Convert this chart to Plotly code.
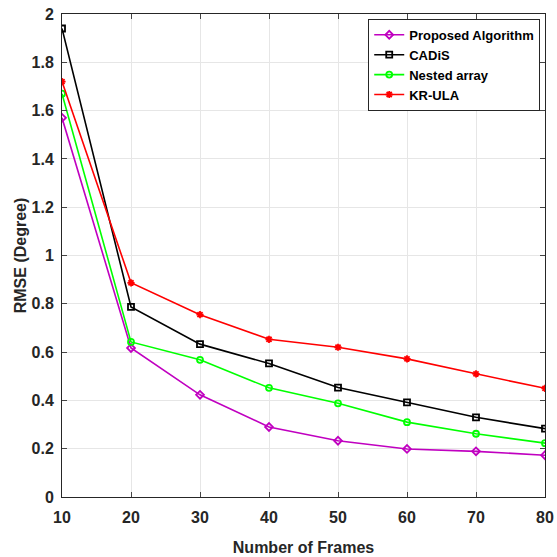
import plotly.graph_objects as go

frames = [10, 20, 30, 40, 50, 60, 70, 80]
proposed = [1.57, 0.617, 0.423, 0.29, 0.233, 0.199, 0.189, 0.173]
cadis = [1.94, 0.787, 0.633, 0.553, 0.453, 0.392, 0.33, 0.283]
nested = [1.67, 0.642, 0.568, 0.452, 0.388, 0.31, 0.262, 0.223]
krula = [1.72, 0.887, 0.755, 0.653, 0.62, 0.572, 0.51, 0.45]

series = [
    ("Proposed Algorithm", proposed, "#C000C0", "diamond-open"),
    ("CADiS", cadis, "black", "square-open"),
    ("Nested array", nested, "#00FF00", "circle-open"),
    ("KR-ULA", krula, "red", "asterisk-open"),
]

fig = go.Figure()
for name, vals, color, sym in series:
    fig.add_trace(go.Scatter(
        x=frames, y=vals, name=name, mode="lines+markers",
        line=dict(color=color, width=1.6),
        marker=dict(symbol=sym, size=6, color=color, line=dict(color=color, width=1.8)),
    ))

font = "Liberation Sans, Arial, sans-serif"
fig.update_layout(
    width=557, height=557,
    margin=dict(l=62, r=12, t=14, b=60),
    paper_bgcolor="white", plot_bgcolor="white",
    font=dict(family=font, size=15, color="#262626"),
    showlegend=True,
    legend=dict(
        x=0.634, y=0.99, xanchor="left", yanchor="top",
        bgcolor="white", bordercolor="#262626", borderwidth=1,
        font=dict(family=font, size=13, color="black", weight="bold"),
        tracegroupgap=0, itemwidth=30,
    ),
    xaxis=dict(
        range=[10, 80], tickvals=frames, ticks="inside", ticklen=5,
        showline=True, linecolor="#262626", linewidth=1, mirror="ticks",
        showgrid=True, gridcolor="#E6E6E6", gridwidth=1, zeroline=False,
        ticklabelstandoff=6, automargin=False, ticklabeloverflow="allow",
        tickfont=dict(family=font, size=16, color="#262626", weight="bold"),
        title=dict(text="Number of Frames", standoff=16,
                   font=dict(family=font, size=16, color="#262626", weight="bold")),
    ),
    yaxis=dict(
        range=[0, 2], tickvals=[0, 0.2, 0.4, 0.6, 0.8, 1, 1.2, 1.4, 1.6, 1.8, 2],
        ticktext=["0", "0.2", "0.4", "0.6", "0.8", "1", "1.2", "1.4", "1.6", "1.8", "2"],
        ticks="inside", ticklen=5,
        showline=True, linecolor="#262626", linewidth=1, mirror="ticks",
        ticklabelstandoff=4, automargin=False, ticklabeloverflow="allow",
        showgrid=True, gridcolor="#E6E6E6", gridwidth=1, zeroline=False,
        tickfont=dict(family=font, size=16, color="#262626", weight="bold"),
        title=dict(text="RMSE (Degree)", standoff=0,
                   font=dict(family=font, size=16, color="#262626", weight="bold")),
    ),
)
fig.write_html(
    "out.html",
    config={"displayModeBar": False},
    post_script="document.body.style.margin='0';document.body.style.overflow='hidden';",
)
